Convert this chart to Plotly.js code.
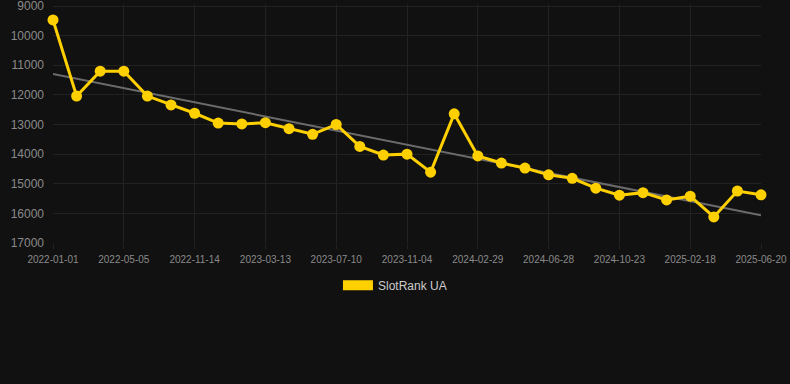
<!DOCTYPE html>
<html>
<head>
<meta charset="utf-8">
<script src="https://cdn.plot.ly/plotly-3.0.1.min.js"></script>
<style>html,body{margin:0;padding:0;background:#111111;}#chart{width:790px;height:384px;}</style>
</head>
<body>
<div id="chart"></div>
<script>
// Tick labels (every third data point carries a date label)
const tickLabels = ["2022-01-01","2022-05-05","2022-11-14","2023-03-13","2023-07-10","2023-11-04","2024-02-29","2024-06-28","2024-10-23","2025-02-18","2025-06-20"];
const tickEvery = 3;
// SlotRank UA rank values, one per period
const rankValues = [9470, 12040, 11200, 11200, 12040, 12340, 12620, 12950, 12980, 12940, 13140, 13330, 13000, 13740, 14030, 14000, 14610, 12640, 14060, 14300, 14470, 14700, 14815, 15150, 15385, 15300, 15545, 15420, 16120, 15245, 15375];
const seriesName = "SlotRank UA";
const yTicks = [9000, 10000, 11000, 12000, 13000, 14000, 15000, 16000, 17000];

const idx = rankValues.map((_, i) => i);
// least-squares trend line computed from the data
const n = rankValues.length;
const mx = idx.reduce((a, b) => a + b, 0) / n;
const my = rankValues.reduce((a, b) => a + b, 0) / n;
let sxy = 0, sxx = 0;
idx.forEach((x, i) => { sxy += (x - mx) * (rankValues[i] - my); sxx += (x - mx) * (x - mx); });
const slope = sxy / sxx, icpt = my - slope * mx;
const trendX = [idx[0], idx[n - 1]];
const trendY = trendX.map(x => icpt + slope * x);

const tickVals = tickLabels.map((_, i) => i * tickEvery);

const traces = [
  {x: trendX, y: trendY, mode: "lines", line: {color: "#6b6b6b", width: 2}, showlegend: false, hoverinfo: "skip", cliponaxis: false},
  {x: idx, y: rankValues, mode: "lines+markers", name: seriesName, line: {color: "#FFD000", width: 3},
   marker: {color: "#FFD000", size: 11}, showlegend: false, cliponaxis: false},
  {x: [null], y: [null], mode: "lines", name: seriesName, line: {color: "#FFD000", width: 12}, showlegend: true}
];

const layout = {
  width: 790, height: 384,
  paper_bgcolor: "#111111", plot_bgcolor: "#111111",
  margin: {l: 53, r: 29, t: 4, b: 141, autoexpand: false},
  font: {family: "Liberation Sans, Arial, sans-serif", color: "#8a8a8a"},
  xaxis: {range: [0, n - 1], tickmode: "array", tickvals: tickVals, ticktext: tickLabels, tickangle: 0,
    showgrid: true, gridcolor: "#222222", zeroline: false, showline: false, ticklabeloverflow: "allow",
    ticks: "outside", ticklen: 5, tickcolor: "#222222", tickfont: {size: 10, color: "#8a8a8a"}, ticklabelstandoff: 2},
  yaxis: {range: [17000, 8932], tickmode: "array", tickvals: yTicks, ticktext: yTicks.map(String),
    showgrid: true, gridcolor: "#222222", zeroline: false, showline: false, ticklabeloverflow: "allow",
    ticks: "", tickfont: {size: 12, color: "#8a8a8a"}, ticklabelstandoff: 8},
  legend: {orientation: "h", x: 0.483, xanchor: "center", y: -0.177, yanchor: "middle",
    font: {size: 12, color: "#cccccc"}, bgcolor: "rgba(0,0,0,0)"},
  showlegend: true
};

Plotly.newPlot("chart", traces, layout, {displayModeBar: false, staticPlot: true});
</script>
</body>
</html>
